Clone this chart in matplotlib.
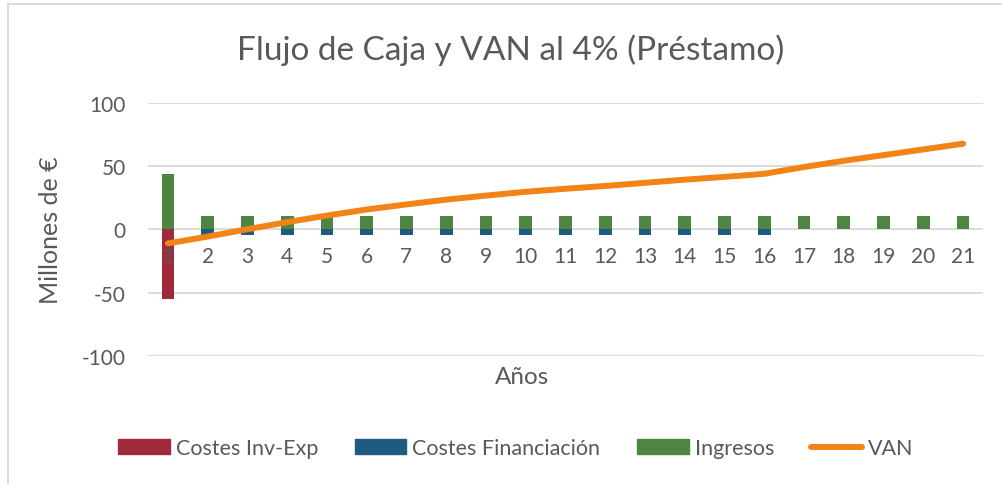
import numpy as np
import matplotlib.pyplot as plt
from matplotlib.lines import Line2D
from matplotlib.patches import Patch

plt.rcParams['font.family'] = ['Lato', 'DejaVu Sans']
plt.rcParams['axes.unicode_minus'] = False

# Data (millones de €)
years = list(range(1, 22))
costes_inv = [-55.3] + [0] * 20
costes_fin = [0] + [-4.2] * 15 + [0] * 5
ingresos = [44.2] + [10.5] * 20
van = [-11.0, -5.6, 0.2, 5.8, 11.0, 15.8, 19.8, 23.6, 26.8, 29.8, 32.2,
       34.4, 36.9, 39.4, 41.6, 44.0, 49.4, 54.3, 58.8, 63.3, 67.8]
yticks = [-100, -50, 0, 50, 100]

c_red = '#A0293A'
c_blue = '#1F5A80'
c_green = '#4E8542'
c_orange = '#F28316'
txt = '#595959'
grid = '#D9D9D9'

fig = plt.figure(figsize=(10.02, 4.85), dpi=100)
ax = fig.add_axes([0.1477, 0.2639, 0.8333, 0.5217])

x = np.array(years)
w = 0.32
for t in yticks:
    ax.axhline(t, color=grid, lw=1.3, zorder=0)
ax.bar(x, costes_inv, w, color=c_red, zorder=1)
ax.bar(x, costes_fin, w, color=c_blue, zorder=1)
ax.bar(x, ingresos, w, color=c_green, zorder=1)
ax.plot(x, van, color=c_orange, lw=4.3, solid_capstyle='round', zorder=3)

ax.set_xlim(0.5, 21.5)
ax.set_ylim(-100, 100)
ax.set_yticks(yticks)
ax.set_xticks(years)

for s in ['top', 'right', 'left']:
    ax.spines[s].set_visible(False)
ax.spines['bottom'].set_position(('data', 0))
ax.spines['bottom'].set_visible(False)
ax.tick_params(axis='x', length=0, pad=12, labelsize=15, colors=txt)
ax.tick_params(axis='y', length=0, pad=16, labelsize=15, colors=txt)

ax.set_ylabel('Millones de €', fontsize=18, color=txt, labelpad=14)
fig.text(522 / 1002, 1 - 378 / 485, 'Años', ha='center', va='center',
         fontsize=17.5, color=txt)
fig.text(511 / 1002, 1 - 50 / 485, 'Flujo de Caja y VAN al 4% (Préstamo)',
         ha='center', va='center', fontsize=24, color=txt)

handles = [Patch(color=c_red), Patch(color=c_blue), Patch(color=c_green),
           Line2D([], [], color=c_orange, lw=4.3, solid_capstyle='round')]
labels = ['Costes Inv-Exp', 'Costes Financiación', 'Ingresos', 'VAN']
fig.legend(handles, labels, loc='center', bbox_to_anchor=(516 / 1002, 1 - 449 / 485),
           ncol=4, frameon=False, fontsize=15.5, labelcolor=txt,
           handlelength=2.4, handleheight=0.65, handletextpad=0.28,
           columnspacing=1.7)

# chart frame
fig.add_artist(Line2D([8 / 1002, 8 / 1002], [0, 1 - 5 / 485], color=grid, lw=1.3))
fig.add_artist(Line2D([8 / 1002, 1], [1 - 5 / 485, 1 - 5 / 485], color=grid, lw=1.3))

fig.savefig('out.png', dpi=100)
